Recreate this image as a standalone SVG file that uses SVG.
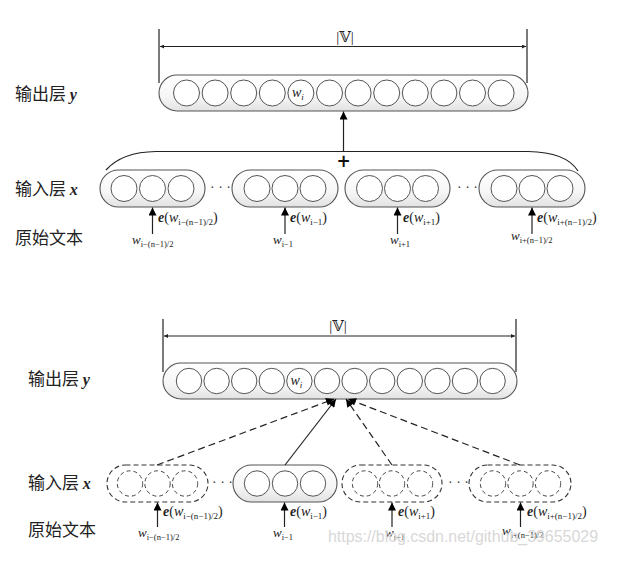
<svg xmlns="http://www.w3.org/2000/svg" width="639" height="564" viewBox="0 0 639 564">
<defs>
<linearGradient id="cap" x1="0" y1="0" x2="0" y2="1">
<stop offset="0" stop-color="#ffffff"/>
<stop offset="0.6" stop-color="#f6f6f6"/>
<stop offset="1" stop-color="#e2e2e2"/>
</linearGradient>
<marker id="ah" markerUnits="userSpaceOnUse" viewBox="0 0 10 10" refX="10" refY="5" markerWidth="11" markerHeight="8" orient="auto">
<path d="M0,0 L10,5 L0,10 z" fill="#000"/>
</marker>
<marker id="sa" markerUnits="userSpaceOnUse" viewBox="0 0 10 10" refX="10" refY="5" markerWidth="7" markerHeight="4" orient="auto">
<path d="M0,0 L10,5 L0,10 z" fill="#222"/>
</marker>
</defs>
<style>
.capsule{fill:url(#cap);stroke:#555;stroke-width:1.1}
.capd{fill:#fff;stroke:#333;stroke-width:1.1;stroke-dasharray:5 3}
.c{fill:#fff;stroke:#555;stroke-width:1}
.cd{fill:#fff;stroke:#444;stroke-width:1;stroke-dasharray:4 3}
.dim{stroke:#222;stroke-width:1.2;fill:none}
.ln{stroke:#222;stroke-width:1.2;fill:none}
.dl{stroke:#222;stroke-width:1.2;fill:none;stroke-dasharray:7 4}
.cn{font-family:"Noto Sans CJK SC",sans-serif;font-size:17px;fill:#222}
.m{font-family:"Liberation Serif","DejaVu Serif",serif;fill:#222}
.bi{font-weight:bold;font-style:italic}
.i{font-style:italic}
.dots{font-family:"Liberation Serif",serif;font-size:14px;fill:#444}
.wm{font-family:"Liberation Sans",sans-serif;font-size:16px;fill:#d8d8d8}
</style>

<!-- ============ TOP DIAGRAM ============ -->
<g id="top-labels">
<text class="cn" x="15" y="100">输出层 <tspan class="m bi" font-size="16">y</tspan></text>
<text class="cn" x="15" y="195">输入层 <tspan class="m bi" font-size="16">x</tspan></text>
<text class="cn" x="15" y="244">原始文本</text>
</g>

<g id="top-dimension">
<line class="dim" x1="159" y1="29" x2="159" y2="83"/>
<line class="dim" x1="527" y1="29" x2="527" y2="83"/>
<line class="dim" x1="343" y1="46.5" x2="160" y2="46.5" marker-end="url(#sa)"/>
<line class="dim" x1="343" y1="46.5" x2="526" y2="46.5" marker-end="url(#sa)"/>
<text class="m" x="345" y="42" font-size="15" text-anchor="middle">|𝕍|</text>
</g>

<g id="top-output">
<rect class="capsule" x="159" y="75" width="369" height="36" rx="18"/>
<circle class="c" cx="186.5" cy="93" r="13"/>
<circle class="c" cx="215.1" cy="93" r="13"/>
<circle class="c" cx="243.7" cy="93" r="13"/>
<circle class="c" cx="272.3" cy="93" r="13"/>
<circle class="c" cx="300.9" cy="93" r="13"/>
<circle class="c" cx="329.5" cy="93" r="13"/>
<circle class="c" cx="358.1" cy="93" r="13"/>
<circle class="c" cx="386.7" cy="93" r="13"/>
<circle class="c" cx="415.3" cy="93" r="13"/>
<circle class="c" cx="443.9" cy="93" r="13"/>
<circle class="c" cx="472.5" cy="93" r="13"/>
<circle class="c" cx="501.1" cy="93" r="13"/>
<text class="m i" x="292" y="97" font-size="14">w<tspan font-size="9" dy="3">i</tspan></text>
</g>

<g id="top-input-1">
<rect class="capsule" x="100" y="170" width="105" height="37" rx="18.5"/>
<circle class="c" cx="124" cy="188.5" r="13"/>
<circle class="c" cx="152.5" cy="188.5" r="13"/>
<circle class="c" cx="181" cy="188.5" r="13"/>
</g>
<g id="top-input-2">
<rect class="capsule" x="232" y="170" width="106" height="37" rx="18.5"/>
<circle class="c" cx="257" cy="188.5" r="13"/>
<circle class="c" cx="285" cy="188.5" r="13"/>
<circle class="c" cx="313" cy="188.5" r="13"/>
</g>
<g id="top-input-3">
<rect class="capsule" x="345" y="170" width="105" height="37" rx="18.5"/>
<circle class="c" cx="369.5" cy="188.5" r="13"/>
<circle class="c" cx="397.5" cy="188.5" r="13"/>
<circle class="c" cx="425.5" cy="188.5" r="13"/>
</g>
<g id="top-input-4">
<rect class="capsule" x="479" y="170" width="106" height="37" rx="18.5"/>
<circle class="c" cx="504" cy="188.5" r="13"/>
<circle class="c" cx="532" cy="188.5" r="13"/>
<circle class="c" cx="560" cy="188.5" r="13"/>
</g>
<text class="dots" x="210" y="192">· · ·</text>
<text class="dots" x="457" y="192">· · ·</text>

<g id="top-connectors">
<path class="ln" d="M106,170 Q122,152 156,151.5 L528,151.5 Q566,152 578,171"/>
<line class="ln" x1="343.5" y1="151.5" x2="343.5" y2="111.5" marker-end="url(#ah)"/>
<text x="343.5" y="167" font-family="DejaVu Sans,sans-serif" font-size="17" font-weight="bold" text-anchor="middle" fill="#111">+</text>
<line class="ln" x1="152.5" y1="234" x2="152.5" y2="207.5" marker-end="url(#ah)"/>
<line class="ln" x1="285" y1="234" x2="285" y2="207.5" marker-end="url(#ah)"/>
<line class="ln" x1="397.5" y1="234" x2="397.5" y2="207.5" marker-end="url(#ah)"/>
<line class="ln" x1="532" y1="234" x2="532" y2="207.5" marker-end="url(#ah)"/>
</g>

<g id="top-embeddings">
<text class="m" x="158" y="222" font-size="14"><tspan class="bi">e</tspan>(<tspan class="i">w</tspan><tspan font-size="9" dy="3">i−(n−1)/2</tspan><tspan dy="-3">)</tspan></text>
<text class="m" x="290" y="222" font-size="14"><tspan class="bi">e</tspan>(<tspan class="i">w</tspan><tspan font-size="9" dy="3">i−1</tspan><tspan dy="-3">)</tspan></text>
<text class="m" x="403" y="222" font-size="14"><tspan class="bi">e</tspan>(<tspan class="i">w</tspan><tspan font-size="9" dy="3">i+1</tspan><tspan dy="-3">)</tspan></text>
<text class="m" x="537" y="222" font-size="14"><tspan class="bi">e</tspan>(<tspan class="i">w</tspan><tspan font-size="9" dy="3">i+(n−1)/2</tspan><tspan dy="-3">)</tspan></text>
</g>
<g id="top-words" fill="#444">
<text class="m i" x="132" y="244" font-size="13" fill="#444">w<tspan font-size="8.5" dy="3" font-style="normal">i−(n−1)/2</tspan></text>
<text class="m i" x="273" y="244" font-size="13" fill="#444">w<tspan font-size="8.5" dy="3" font-style="normal">i−1</tspan></text>
<text class="m i" x="390" y="244" font-size="13" fill="#444">w<tspan font-size="8.5" dy="3" font-style="normal">i+1</tspan></text>
<text class="m i" x="511" y="240" font-size="13" fill="#444">w<tspan font-size="8.5" dy="3" font-style="normal">i+(n−1)/2</tspan></text>
</g>

<!-- ============ BOTTOM DIAGRAM ============ -->
<g id="bottom-labels">
<text class="cn" x="28" y="385">输出层 <tspan class="m bi" font-size="16">y</tspan></text>
<text class="cn" x="28" y="489">输入层 <tspan class="m bi" font-size="16">x</tspan></text>
<text class="cn" x="28" y="536">原始文本</text>
</g>

<g id="bottom-dimension">
<line class="dim" x1="163" y1="319" x2="163" y2="372"/>
<line class="dim" x1="516" y1="319" x2="516" y2="372"/>
<line class="dim" x1="340" y1="336" x2="164" y2="336" marker-end="url(#sa)"/>
<line class="dim" x1="340" y1="336" x2="515" y2="336" marker-end="url(#sa)"/>
<text class="m" x="338" y="331" font-size="15" text-anchor="middle">|𝕍|</text>
</g>

<g id="bottom-output">
<rect class="capsule" x="163" y="363" width="354" height="36" rx="18"/>
<circle class="c" cx="189" cy="381" r="12.7"/>
<circle class="c" cx="216.6" cy="381" r="12.7"/>
<circle class="c" cx="244.2" cy="381" r="12.7"/>
<circle class="c" cx="271.8" cy="381" r="12.7"/>
<circle class="c" cx="299.4" cy="381" r="12.7"/>
<circle class="c" cx="327" cy="381" r="12.7"/>
<circle class="c" cx="354.6" cy="381" r="12.7"/>
<circle class="c" cx="382.2" cy="381" r="12.7"/>
<circle class="c" cx="409.8" cy="381" r="12.7"/>
<circle class="c" cx="437.4" cy="381" r="12.7"/>
<circle class="c" cx="465" cy="381" r="12.7"/>
<circle class="c" cx="492.6" cy="381" r="12.7"/>
<text class="m i" x="290.5" y="385" font-size="14">w<tspan font-size="9" dy="3">i</tspan></text>
</g>

<g id="bottom-input-1">
<rect class="capd" x="107" y="465" width="101" height="37" rx="18.5"/>
<circle class="cd" cx="130" cy="483.5" r="12.7"/>
<circle class="cd" cx="157.5" cy="483.5" r="12.7"/>
<circle class="cd" cx="185" cy="483.5" r="12.7"/>
</g>
<g id="bottom-input-2">
<rect class="capsule" x="233" y="465" width="104" height="37" rx="18.5"/>
<circle class="c" cx="257" cy="483.5" r="12.7"/>
<circle class="c" cx="285" cy="483.5" r="12.7"/>
<circle class="c" cx="313" cy="483.5" r="12.7"/>
</g>
<g id="bottom-input-3">
<rect class="capd" x="342" y="465" width="100" height="37" rx="18.5"/>
<circle class="cd" cx="365" cy="483.5" r="12.7"/>
<circle class="cd" cx="392" cy="483.5" r="12.7"/>
<circle class="cd" cx="420" cy="483.5" r="12.7"/>
</g>
<g id="bottom-input-4">
<rect class="capd" x="469" y="465" width="102" height="37" rx="18.5"/>
<circle class="cd" cx="493" cy="483.5" r="12.7"/>
<circle class="cd" cx="520.5" cy="483.5" r="12.7"/>
<circle class="cd" cx="548" cy="483.5" r="12.7"/>
</g>
<text class="dots" x="212" y="487">· · ·</text>
<text class="dots" x="448" y="487">· · ·</text>

<g id="bottom-connectors">
<line class="dl" x1="157" y1="465" x2="334" y2="399" marker-end="url(#ah)"/>
<line class="ln" x1="285" y1="465" x2="336" y2="399" marker-end="url(#ah)"/>
<line class="dl" x1="392" y1="465" x2="346" y2="399" marker-end="url(#ah)"/>
<line class="dl" x1="520" y1="465" x2="348" y2="399" marker-end="url(#ah)"/>
<line class="ln" x1="157.5" y1="527" x2="157.5" y2="502.5" marker-end="url(#ah)"/>
<line class="ln" x1="284.5" y1="527" x2="284.5" y2="502.5" marker-end="url(#ah)"/>
<line class="ln" x1="392" y1="527" x2="392" y2="502.5" marker-end="url(#ah)"/>
<line class="ln" x1="520.5" y1="527" x2="520.5" y2="502.5" marker-end="url(#ah)"/>
</g>

<g id="bottom-embeddings">
<text class="m" x="163" y="516" font-size="14"><tspan class="bi">e</tspan>(<tspan class="i">w</tspan><tspan font-size="9" dy="3">i−(n−1)/2</tspan><tspan dy="-3">)</tspan></text>
<text class="m" x="290" y="516" font-size="14"><tspan class="bi">e</tspan>(<tspan class="i">w</tspan><tspan font-size="9" dy="3">i−1</tspan><tspan dy="-3">)</tspan></text>
<text class="m" x="398" y="516" font-size="14"><tspan class="bi">e</tspan>(<tspan class="i">w</tspan><tspan font-size="9" dy="3">i+1</tspan><tspan dy="-3">)</tspan></text>
<text class="m" x="527" y="516" font-size="14"><tspan class="bi">e</tspan>(<tspan class="i">w</tspan><tspan font-size="9" dy="3">i+(n−1)/2</tspan><tspan dy="-3">)</tspan></text>
</g>
<g id="bottom-words">
<text class="m i" x="138" y="537" font-size="13" fill="#444">w<tspan font-size="8.5" dy="3" font-style="normal">i−(n−1)/2</tspan></text>
<text class="m i" x="273" y="537" font-size="13" fill="#444">w<tspan font-size="8.5" dy="3" font-style="normal">i−1</tspan></text>
<text class="m i" x="385" y="537" font-size="13" fill="#444">w<tspan font-size="8.5" dy="3" font-style="normal">i+1</tspan></text>
<text class="m i" x="502" y="535" font-size="13" fill="#444">w<tspan font-size="8.5" dy="3" font-style="normal">i+(n−1)/2</tspan></text>
</g>

<text class="wm" x="328" y="542" textLength="270" lengthAdjust="spacingAndGlyphs">https://blog.csdn.net/github_39655029</text>
</svg>
